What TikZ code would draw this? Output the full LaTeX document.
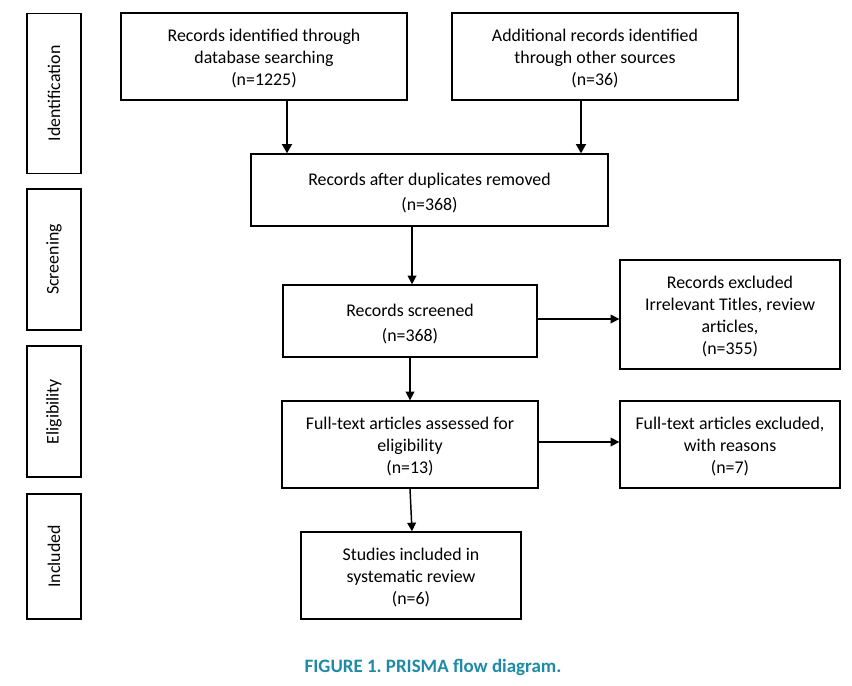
\documentclass[tikz,border=0pt]{standalone}
\usepackage{fontspec}
\setmainfont{Carlito}
\frenchspacing
\usetikzlibrary{arrows.meta}
\definecolor{capteal}{RGB}{30,138,166}
\newcommand\bxt[1]{\raisebox{0pt}[\dimexpr\height+4pt\relax][\depth]{\begin{tabular}{@{}c@{}}#1\end{tabular}}}
\begin{document}
\begin{tikzpicture}[x=0.75pt,y=-0.75pt,
  box/.style={draw,line width=1pt,inner sep=0pt,font=\fontsize{13.4pt}{16.5pt}\selectfont},
  widebox/.style={box,font=\fontsize{13.4pt}{19pt}\selectfont},
  sidebox/.style={draw,line width=1pt,inner sep=0pt,minimum width=40.5pt},
  sidetext/.style={rotate=90,font=\fontsize{13.4pt}{15pt}\selectfont},
  arr/.style={line width=1.5pt,-{Triangle[width=7.5pt,length=7pt]}},
  arrthin/.style={line width=1.1pt,-{Triangle[width=6.5pt,length=6.5pt]}}]
\useasboundingbox (0,0) rectangle (852,685);
% side stage boxes
\node[sidebox,minimum height=120pt] (sid) at (54,93.5) {};
\node[sidetext] (tid) at (sid.center) {Identification};
\node[sidebox,minimum height=105.75pt] (ssc) at (54,259.5) {};
\node[sidetext] (tsc) at (ssc.center) {Screening};
\node[sidebox,minimum height=98.25pt] (sel) at (54,411.5) {};
\node[sidetext] (tel) at (sel.center) {Eligibility};
\node[sidebox,minimum height=93.75pt] (sin) at (54,556.5) {};
\node[sidetext] (tin) at (sin.center) {Included};
% flow boxes
\node[box,minimum width=214.5pt,minimum height=65.25pt] (db) at (264,56.5)
  {\bxt{Records identified through\\database searching\\(n=1225)}};
\node[box,minimum width=214.5pt,minimum height=65.25pt] (oth) at (595,56.5)
  {\bxt{Additional records identified\\through other sources\\(n=36)}};
\node[widebox,minimum width=267.75pt,minimum height=54pt] (dup) at (429.5,190)
  {\bxt{Records after duplicates removed\\(n=368)}};
\node[widebox,minimum width=190.5pt,minimum height=54pt] (scr) at (410,321)
  {\bxt{Records screened\\(n=368)}};
\node[box,minimum width=165pt,minimum height=81.75pt] (ex1) at (730,314.5)
  {\bxt{Records excluded\\Irrelevant Titles, review\\articles,\\(n=355)}};
\node[box,minimum width=192pt,minimum height=65.25pt] (ft) at (410,444.5)
  {\bxt{Full-text articles assessed for\\eligibility\\(n=13)}};
\node[box,minimum width=165pt,minimum height=65.25pt] (ex2) at (730,444.5)
  {\bxt{Full-text articles excluded,\\with reasons\\(n=7)}};
\node[box,minimum width=165pt,minimum height=65.25pt] (inc) at (411,575.5)
  {\bxt{Studies included in\\systematic review\\(n=6)}};
% caption
\node[font=\fontsize{14.2pt}{16pt}\selectfont\bfseries,text=capteal] (cap) at (433,667)
  {FIGURE 1. PRISMA flow diagram.};
% arrows
\draw[arr] ([xshift=17.25pt]db.south) -- ([xshift=17.25pt]db.south |- dup.north);
\draw[arr] ([xshift=-10.5pt]oth.south) -- ([xshift=-10.5pt]oth.south |- dup.north);
\draw[arrthin] ([xshift=-13.1pt]dup.south) -- ([xshift=-13.1pt]dup.south |- scr.north);
\draw[arrthin] (scr.east |- 0,319) -- (ex1.west |- 0,319);
\draw[arrthin] (scr.south) -- (ft.north);
\draw[arrthin] (ft.east |- 0,442) -- (ex2.west |- 0,442);
\draw[arrthin] (ft.south) -- ([xshift=0.75pt]inc.north);
\end{tikzpicture}
\end{document}
